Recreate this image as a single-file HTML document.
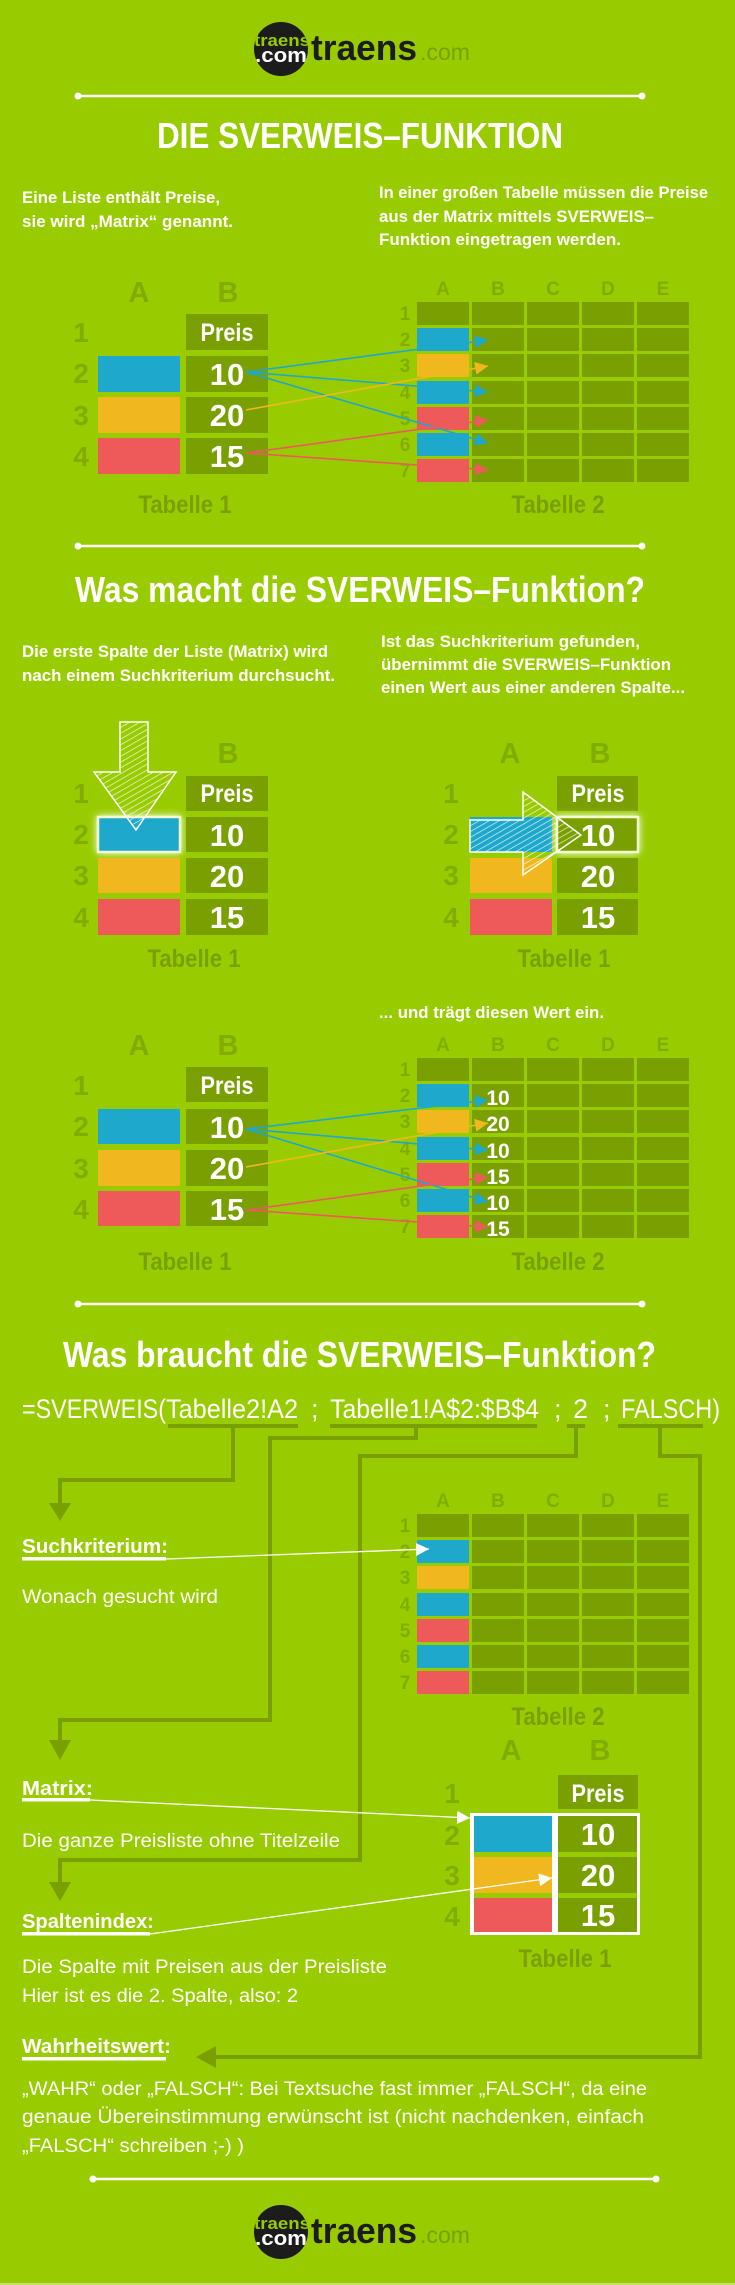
<!DOCTYPE html>
<html><head><meta charset="utf-8"><style>
html,body{margin:0;padding:0;background:#99cc00;}
svg{display:block;}
text{font-family:"Liberation Sans Narrow","Liberation Sans",sans-serif;}
.w{fill:#fff;font-weight:bold;}
.r{fill:#fff;font-weight:normal;}
.lab{fill:#82ad00;font-weight:bold;text-anchor:middle;}
.tab{fill:#79a000;font-weight:bold;text-anchor:middle;font-size:25px;}
.v{fill:#fff;font-weight:bold;text-anchor:middle;}
</style></head><body>
<svg width="735" height="2285" viewBox="0 0 735 2285" xmlns="http://www.w3.org/2000/svg">
<defs>
<g id="grid">
<g fill="#79a000">
<rect x="417" y="0" width="52" height="23"/><rect x="472" y="0" width="52" height="23"/><rect x="527" y="0" width="52" height="23"/><rect x="582" y="0" width="52" height="23"/><rect x="637" y="0" width="52" height="23"/>
<rect x="417" y="26" width="52" height="23"/><rect x="472" y="26" width="52" height="23"/><rect x="527" y="26" width="52" height="23"/><rect x="582" y="26" width="52" height="23"/><rect x="637" y="26" width="52" height="23"/>
<rect x="417" y="52" width="52" height="23"/><rect x="472" y="52" width="52" height="23"/><rect x="527" y="52" width="52" height="23"/><rect x="582" y="52" width="52" height="23"/><rect x="637" y="52" width="52" height="23"/>
<rect x="417" y="79" width="52" height="23"/><rect x="472" y="79" width="52" height="23"/><rect x="527" y="79" width="52" height="23"/><rect x="582" y="79" width="52" height="23"/><rect x="637" y="79" width="52" height="23"/>
<rect x="417" y="105" width="52" height="23"/><rect x="472" y="105" width="52" height="23"/><rect x="527" y="105" width="52" height="23"/><rect x="582" y="105" width="52" height="23"/><rect x="637" y="105" width="52" height="23"/>
<rect x="417" y="131" width="52" height="23"/><rect x="472" y="131" width="52" height="23"/><rect x="527" y="131" width="52" height="23"/><rect x="582" y="131" width="52" height="23"/><rect x="637" y="131" width="52" height="23"/>
<rect x="417" y="157" width="52" height="23"/><rect x="472" y="157" width="52" height="23"/><rect x="527" y="157" width="52" height="23"/><rect x="582" y="157" width="52" height="23"/><rect x="637" y="157" width="52" height="23"/>
</g>
<rect x="417" y="26" width="52" height="23" fill="#1ea8cc"/>
<rect x="417" y="52" width="52" height="23" fill="#f0b81e"/>
<rect x="417" y="79" width="52" height="23" fill="#1ea8cc"/>
<rect x="417" y="105" width="52" height="23" fill="#ee5a5a"/>
<rect x="417" y="131" width="52" height="23" fill="#1ea8cc"/>
<rect x="417" y="157" width="52" height="23" fill="#ee5a5a"/>
</g>
<marker id="mb" viewBox="0 0 12 12" refX="12" refY="6" markerWidth="13" markerHeight="13" markerUnits="userSpaceOnUse" orient="auto"><path d="M0,0 L12,6 L0,12 Z" fill="#1ea8cc"/></marker>
<marker id="my" viewBox="0 0 12 12" refX="12" refY="6" markerWidth="13" markerHeight="13" markerUnits="userSpaceOnUse" orient="auto"><path d="M0,0 L12,6 L0,12 Z" fill="#f0b81e"/></marker>
<marker id="mr" viewBox="0 0 12 12" refX="12" refY="6" markerWidth="13" markerHeight="13" markerUnits="userSpaceOnUse" orient="auto"><path d="M0,0 L12,6 L0,12 Z" fill="#ee5a5a"/></marker>
<marker id="mw" viewBox="0 0 12 12" refX="12" refY="6" markerWidth="13" markerHeight="13" markerUnits="userSpaceOnUse" orient="auto"><path d="M0,0 L12,6 L0,12 Z" fill="#fff"/></marker>
<pattern id="hatch" width="5" height="5" patternUnits="userSpaceOnUse" patternTransform="rotate(60)"><line x1="0" y1="0" x2="0" y2="5" stroke="#fff" stroke-width="1.3"/></pattern>
<clipPath id="cc1"><circle cx="281" cy="49" r="27"/></clipPath>
<clipPath id="cc2"><circle cx="281" cy="2232" r="27"/></clipPath>
</defs>
<rect width="735" height="2285" fill="#99cc00"/>

<circle cx="281" cy="49" r="27" fill="#1c1c1c"/>
<g clip-path="url(#cc1)">
<text x="254" y="46" font-size="17" font-weight="bold" fill="#99cc00" textLength="56" lengthAdjust="spacingAndGlyphs">traens</text>
<text x="255" y="62" font-size="20" font-weight="bold" fill="#fff" textLength="52" lengthAdjust="spacingAndGlyphs">.com</text>
</g>
<text x="311" y="60" font-size="36" font-weight="bold" fill="#1c1c1c" textLength="106" lengthAdjust="spacingAndGlyphs">traens</text>
<text x="420" y="60" font-size="23" fill="#79a000" textLength="50" lengthAdjust="spacingAndGlyphs">.com</text>

<line x1="78" y1="96" x2="642" y2="96" stroke="#fff" stroke-width="2.5"/>
<circle cx="78" cy="96" r="3.5" fill="#fff"/><circle cx="642" cy="96" r="3.5" fill="#fff"/>

<text class="w" x="157" y="148" font-size="36" textLength="406" lengthAdjust="spacingAndGlyphs">DIE SVERWEIS–FUNKTION</text>
<text class="w" x="22" y="203" font-size="17" textLength="198" lengthAdjust="spacingAndGlyphs">Eine Liste enthält Preise,</text>
<text class="w" x="22" y="227" font-size="17" textLength="211" lengthAdjust="spacingAndGlyphs">sie wird „Matrix“ genannt.</text>
<text class="w" x="379" y="198" font-size="17" textLength="329" lengthAdjust="spacingAndGlyphs">In einer großen Tabelle müssen die Preise</text>
<text class="w" x="379" y="222" font-size="17" textLength="275" lengthAdjust="spacingAndGlyphs">aus der Matrix mittels SVERWEIS–</text>
<text class="w" x="379" y="245" font-size="17" textLength="242" lengthAdjust="spacingAndGlyphs">Funktion eingetragen werden.</text>

<text class="lab" x="139" y="302" font-size="29">A</text>
<text class="lab" x="228" y="302" font-size="29">B</text>
<g class="lab" font-size="28"><text x="81" y="342">1</text><text x="81" y="383">2</text><text x="81" y="425">3</text><text x="81" y="466">4</text></g>
<rect x="186" y="314" width="82" height="36" fill="#79a000"/>
<rect x="98" y="356" width="82" height="36" fill="#1ea8cc"/><rect x="186" y="356" width="82" height="36" fill="#79a000"/>
<rect x="98" y="397" width="82" height="36" fill="#f0b81e"/><rect x="186" y="397" width="82" height="36" fill="#79a000"/>
<rect x="98" y="438" width="82" height="36" fill="#ee5a5a"/><rect x="186" y="438" width="82" height="36" fill="#79a000"/>
<text class="v" x="227" y="341" font-size="25" textLength="53" lengthAdjust="spacingAndGlyphs">Preis</text>
<text class="v" x="227" y="385" font-size="31">10</text>
<text class="v" x="227" y="426" font-size="31">20</text>
<text class="v" x="227" y="467" font-size="31">15</text>
<text class="tab" x="185" y="513" textLength="93" lengthAdjust="spacingAndGlyphs">Tabelle 1</text>

<use href="#grid" y="302"/>
<g class="lab" font-size="19"><text x="443" y="295">A</text><text x="498" y="295">B</text><text x="553" y="295">C</text><text x="608" y="295">D</text><text x="663" y="295">E</text></g>
<g class="lab" font-size="19"><text x="405" y="320">1</text><text x="405" y="346">2</text><text x="405" y="372">3</text><text x="405" y="399">4</text><text x="405" y="425">5</text><text x="405" y="451">6</text><text x="405" y="477">7</text></g>
<text class="tab" x="558" y="513" textLength="93" lengthAdjust="spacingAndGlyphs">Tabelle 2</text>
<g stroke-width="1.6" fill="none">
<line x1="246" y1="372" x2="488" y2="340" stroke="#1ea8cc" marker-end="url(#mb)"/>
<line x1="246" y1="372" x2="488" y2="392" stroke="#1ea8cc" marker-end="url(#mb)"/>
<line x1="246" y1="372" x2="488" y2="443" stroke="#1ea8cc" marker-end="url(#mb)"/>
<line x1="246" y1="410" x2="488" y2="366" stroke="#f0b81e" marker-end="url(#my)"/>
<line x1="246" y1="453" x2="488" y2="420" stroke="#ee5a5a" marker-end="url(#mr)"/>
<line x1="246" y1="453" x2="488" y2="470" stroke="#ee5a5a" marker-end="url(#mr)"/>
</g>

<line x1="78" y1="546" x2="642" y2="546" stroke="#fff" stroke-width="2.5"/>
<circle cx="78" cy="546" r="3.5" fill="#fff"/><circle cx="642" cy="546" r="3.5" fill="#fff"/>
<text class="w" x="75" y="602" font-size="36" textLength="570" lengthAdjust="spacingAndGlyphs">Was macht die SVERWEIS–Funktion?</text>
<text class="w" x="22" y="657" font-size="17" textLength="306" lengthAdjust="spacingAndGlyphs">Die erste Spalte der Liste (Matrix) wird</text>
<text class="w" x="22" y="681" font-size="17" textLength="313" lengthAdjust="spacingAndGlyphs">nach einem Suchkriterium durchsucht.</text>
<text class="w" x="381" y="647" font-size="17" textLength="259" lengthAdjust="spacingAndGlyphs">Ist das Suchkriterium gefunden,</text>
<text class="w" x="381" y="670" font-size="17" textLength="290" lengthAdjust="spacingAndGlyphs">übernimmt die SVERWEIS–Funktion</text>
<text class="w" x="381" y="693" font-size="17" textLength="304" lengthAdjust="spacingAndGlyphs">einen Wert aus einer anderen Spalte...</text>

<text class="lab" x="228" y="763" font-size="29">B</text>
<g class="lab" font-size="28"><text x="81" y="803">1</text><text x="81" y="844">2</text><text x="81" y="885">3</text><text x="81" y="927">4</text></g>
<rect x="186" y="776" width="82" height="35" fill="#79a000"/>
<rect x="98" y="817" width="82" height="35" fill="#1ea8cc" stroke="#f4ffd0" stroke-width="2.5" style="filter:drop-shadow(0 0 4px #fff)"/><rect x="186" y="817" width="82" height="35" fill="#79a000"/>
<rect x="98" y="858" width="82" height="35" fill="#f0b81e"/><rect x="186" y="858" width="82" height="35" fill="#79a000"/>
<rect x="98" y="899" width="82" height="36" fill="#ee5a5a"/><rect x="186" y="899" width="82" height="36" fill="#79a000"/>
<text class="v" x="227" y="802" font-size="25" textLength="53" lengthAdjust="spacingAndGlyphs">Preis</text>
<text class="v" x="227" y="846" font-size="31">10</text>
<text class="v" x="227" y="887" font-size="31">20</text>
<text class="v" x="227" y="928" font-size="31">15</text>
<text class="tab" x="194" y="967" textLength="93" lengthAdjust="spacingAndGlyphs">Tabelle 1</text>
<path d="M120,722 L148,722 L148,772 L176,772 L136,830 L94,772 L120,772 Z" fill="url(#hatch)" fill-opacity="0.9" stroke="#fff" stroke-width="1.5"/>

<text class="lab" x="510" y="763" font-size="29">A</text>
<text class="lab" x="600" y="763" font-size="29">B</text>
<g class="lab" font-size="28"><text x="451" y="803">1</text><text x="451" y="844">2</text><text x="451" y="885">3</text><text x="451" y="927">4</text></g>
<rect x="557" y="776" width="81" height="35" fill="#79a000"/>
<rect x="470" y="817" width="82" height="35" fill="#1ea8cc"/><rect x="557" y="817" width="81" height="35" fill="#79a000" stroke="#f4ffd0" stroke-width="2.5" style="filter:drop-shadow(0 0 4px #fff)"/>
<rect x="470" y="858" width="82" height="35" fill="#f0b81e"/><rect x="557" y="858" width="81" height="35" fill="#79a000"/>
<rect x="470" y="899" width="82" height="36" fill="#ee5a5a"/><rect x="557" y="899" width="81" height="36" fill="#79a000"/>
<text class="v" x="598" y="802" font-size="25" textLength="53" lengthAdjust="spacingAndGlyphs">Preis</text>
<text class="v" x="598" y="846" font-size="31">10</text>
<text class="v" x="598" y="887" font-size="31">20</text>
<text class="v" x="598" y="928" font-size="31">15</text>
<text class="tab" x="564" y="967" textLength="93" lengthAdjust="spacingAndGlyphs">Tabelle 1</text>
<path d="M470,820 L523,820 L523,792 L581,835 L523,875 L523,852 L470,852 Z" fill="url(#hatch)" fill-opacity="0.9" stroke="#fff" stroke-width="1.5"/>

<text class="w" x="379" y="1018" font-size="17" textLength="225" lengthAdjust="spacingAndGlyphs">... und trägt diesen Wert ein.</text>
<text class="lab" x="139" y="1055" font-size="29">A</text>
<text class="lab" x="228" y="1055" font-size="29">B</text>
<g class="lab" font-size="28"><text x="81" y="1095">1</text><text x="81" y="1136">2</text><text x="81" y="1178">3</text><text x="81" y="1219">4</text></g>
<rect x="186" y="1067" width="82" height="35" fill="#79a000"/>
<rect x="98" y="1109" width="82" height="35" fill="#1ea8cc"/><rect x="186" y="1109" width="82" height="35" fill="#79a000"/>
<rect x="98" y="1150" width="82" height="36" fill="#f0b81e"/><rect x="186" y="1150" width="82" height="36" fill="#79a000"/>
<rect x="98" y="1191" width="82" height="35" fill="#ee5a5a"/><rect x="186" y="1191" width="82" height="35" fill="#79a000"/>
<text class="v" x="227" y="1094" font-size="25" textLength="53" lengthAdjust="spacingAndGlyphs">Preis</text>
<text class="v" x="227" y="1138" font-size="31">10</text>
<text class="v" x="227" y="1179" font-size="31">20</text>
<text class="v" x="227" y="1220" font-size="31">15</text>
<text class="tab" x="185" y="1270" textLength="93" lengthAdjust="spacingAndGlyphs">Tabelle 1</text>
<use href="#grid" y="1058"/>
<g class="lab" font-size="19"><text x="443" y="1051">A</text><text x="498" y="1051">B</text><text x="553" y="1051">C</text><text x="608" y="1051">D</text><text x="663" y="1051">E</text></g>
<g class="lab" font-size="19"><text x="405" y="1076">1</text><text x="405" y="1102">2</text><text x="405" y="1128">3</text><text x="405" y="1155">4</text><text x="405" y="1181">5</text><text x="405" y="1207">6</text><text x="405" y="1233">7</text></g>
<g class="v" font-size="21"><text x="498" y="1105">10</text><text x="498" y="1131">20</text><text x="498" y="1158">10</text><text x="498" y="1184">15</text><text x="498" y="1210">10</text><text x="498" y="1236">15</text></g>
<text class="tab" x="558" y="1270" textLength="93" lengthAdjust="spacingAndGlyphs">Tabelle 2</text>
<g stroke-width="1.6" fill="none">
<line x1="246" y1="1129" x2="488" y2="1100" stroke="#1ea8cc" marker-end="url(#mb)"/>
<line x1="246" y1="1129" x2="488" y2="1150" stroke="#1ea8cc" marker-end="url(#mb)"/>
<line x1="246" y1="1129" x2="488" y2="1202" stroke="#1ea8cc" marker-end="url(#mb)"/>
<line x1="246" y1="1167" x2="488" y2="1123" stroke="#f0b81e" marker-end="url(#my)"/>
<line x1="246" y1="1210" x2="488" y2="1177" stroke="#ee5a5a" marker-end="url(#mr)"/>
<line x1="246" y1="1210" x2="488" y2="1227" stroke="#ee5a5a" marker-end="url(#mr)"/>
</g>

<line x1="78" y1="1304" x2="642" y2="1304" stroke="#fff" stroke-width="2.5"/>
<circle cx="78" cy="1304" r="3.5" fill="#fff"/><circle cx="642" cy="1304" r="3.5" fill="#fff"/>
<text class="w" x="63" y="1367" font-size="36" textLength="593" lengthAdjust="spacingAndGlyphs">Was braucht die SVERWEIS–Funktion?</text>

<g class="r" font-size="27">
<text x="22" y="1418" textLength="144" lengthAdjust="spacingAndGlyphs">=SVERWEIS(</text>
<text x="166" y="1418" textLength="132" lengthAdjust="spacingAndGlyphs">Tabelle2!A2</text>
<text x="311" y="1418">;</text>
<text x="330" y="1418" textLength="209" lengthAdjust="spacingAndGlyphs">Tabelle1!A$2:$B$4</text>
<text x="554" y="1418">;</text>
<text x="573" y="1418">2</text>
<text x="603" y="1418">;</text>
<text x="621" y="1418" textLength="99" lengthAdjust="spacingAndGlyphs">FALSCH)</text>
</g>
<g fill="#79a000">
<rect x="168" y="1424" width="130" height="4"/>
<rect x="330" y="1424" width="207" height="4"/>
<rect x="567" y="1424" width="18" height="4"/>
<rect x="618" y="1424" width="85" height="4"/>
</g>
<g stroke="#79a000" stroke-width="4" fill="none">
<polyline points="233,1426 233,1480 60,1480 60,1505"/>
<polyline points="416,1426 416,1438 270,1438 270,1720 60,1720 60,1742"/>
<polyline points="576,1426 576,1456 360,1456 360,1860 60,1860 60,1884"/>
<polyline points="660,1426 660,1456 700,1456 700,2057 214,2057"/>
</g>
<g fill="#79a000">
<polygon points="49,1503 71,1503 60,1521"/>
<polygon points="49,1740 71,1740 60,1760"/>
<polygon points="49,1882 71,1882 60,1901"/>
<polygon points="216,2046 216,2068 196,2057"/>
</g>

<use href="#grid" y="1514"/>
<g class="lab" font-size="19"><text x="443" y="1507">A</text><text x="498" y="1507">B</text><text x="553" y="1507">C</text><text x="608" y="1507">D</text><text x="663" y="1507">E</text></g>
<g class="lab" font-size="19"><text x="405" y="1532">1</text><text x="405" y="1558">2</text><text x="405" y="1584">3</text><text x="405" y="1611">4</text><text x="405" y="1637">5</text><text x="405" y="1663">6</text><text x="405" y="1689">7</text></g>
<text class="tab" x="558" y="1725" textLength="93" lengthAdjust="spacingAndGlyphs">Tabelle 2</text>

<text class="w" x="22" y="1553" font-size="20" textLength="146" lengthAdjust="spacingAndGlyphs">Suchkriterium:</text>
<rect x="22" y="1557" width="144" height="3.5" fill="#fff"/>
<line x1="166" y1="1559" x2="429" y2="1549" stroke="#fff" stroke-width="1.3" marker-end="url(#mw)"/>
<text class="r" x="22" y="1603" font-size="19" textLength="196" lengthAdjust="spacingAndGlyphs">Wonach gesucht wird</text>

<text class="lab" x="511" y="1760" font-size="29">A</text>
<text class="lab" x="600" y="1760" font-size="29">B</text>
<g class="lab" font-size="28"><text x="452" y="1803">1</text><text x="452" y="1845">2</text><text x="452" y="1885">3</text><text x="452" y="1926">4</text></g>
<rect x="558" y="1775" width="80" height="34" fill="#79a000"/>
<rect x="470" y="1813" width="170" height="122" fill="#fff"/>
<rect x="474" y="1816" width="78" height="36" fill="#1ea8cc"/><rect x="558" y="1816" width="79" height="36" fill="#79a000"/>
<rect x="474" y="1852" width="78" height="5" fill="#99cc00"/><rect x="558" y="1852" width="79" height="5" fill="#99cc00"/>
<rect x="474" y="1857" width="78" height="36" fill="#f0b81e"/><rect x="558" y="1857" width="79" height="36" fill="#79a000"/>
<rect x="474" y="1893" width="78" height="5" fill="#99cc00"/><rect x="558" y="1893" width="79" height="5" fill="#99cc00"/>
<rect x="474" y="1898" width="78" height="34" fill="#ee5a5a"/><rect x="558" y="1898" width="79" height="34" fill="#79a000"/>
<text class="v" x="598" y="1802" font-size="25" textLength="53" lengthAdjust="spacingAndGlyphs">Preis</text>
<text class="v" x="598" y="1845" font-size="31">10</text>
<text class="v" x="598" y="1886" font-size="31">20</text>
<text class="v" x="598" y="1926" font-size="31">15</text>
<text class="tab" x="565" y="1967" textLength="93" lengthAdjust="spacingAndGlyphs">Tabelle 1</text>

<text class="w" x="22" y="1795" font-size="20" textLength="71" lengthAdjust="spacingAndGlyphs">Matrix:</text>
<rect x="22" y="1798" width="68" height="3.5" fill="#fff"/>
<line x1="90" y1="1800" x2="470" y2="1818" stroke="#fff" stroke-width="1.3" marker-end="url(#mw)"/>
<text class="r" x="22" y="1847" font-size="19" textLength="318" lengthAdjust="spacingAndGlyphs">Die ganze Preisliste ohne Titelzeile</text>

<text class="w" x="22" y="1928" font-size="20" textLength="132" lengthAdjust="spacingAndGlyphs">Spaltenindex:</text>
<rect x="22" y="1932" width="128" height="3.5" fill="#fff"/>
<line x1="150" y1="1934" x2="552" y2="1878" stroke="#fff" stroke-width="1.3" marker-end="url(#mw)"/>
<text class="r" x="22" y="1973" font-size="19" textLength="365" lengthAdjust="spacingAndGlyphs">Die Spalte mit Preisen aus der Preisliste</text>
<text class="r" x="22" y="2002" font-size="19" textLength="276" lengthAdjust="spacingAndGlyphs">Hier ist es die 2. Spalte, also: 2</text>

<text class="w" x="22" y="2053" font-size="20" textLength="149" lengthAdjust="spacingAndGlyphs">Wahrheitswert:</text>
<rect x="22" y="2057" width="144" height="3.5" fill="#fff"/>
<text class="r" x="22" y="2095" font-size="19" textLength="625" lengthAdjust="spacingAndGlyphs">„WAHR“ oder „FALSCH“: Bei Textsuche fast immer „FALSCH“, da eine</text>
<text class="r" x="22" y="2123" font-size="19" textLength="622" lengthAdjust="spacingAndGlyphs">genaue Übereinstimmung erwünscht ist (nicht nachdenken, einfach</text>
<text class="r" x="22" y="2152" font-size="19" textLength="222" lengthAdjust="spacingAndGlyphs">„FALSCH“ schreiben ;-) )</text>

<line x1="93" y1="2179" x2="656" y2="2179" stroke="#fff" stroke-width="2.5"/>
<circle cx="93" cy="2179" r="3.5" fill="#fff"/><circle cx="656" cy="2179" r="3.5" fill="#fff"/>

<circle cx="281" cy="2232" r="27" fill="#1c1c1c"/>
<g clip-path="url(#cc2)">
<text x="254" y="2229" font-size="17" font-weight="bold" fill="#99cc00" textLength="56" lengthAdjust="spacingAndGlyphs">traens</text>
<text x="255" y="2245" font-size="20" font-weight="bold" fill="#fff" textLength="52" lengthAdjust="spacingAndGlyphs">.com</text>
</g>
<text x="311" y="2243" font-size="36" font-weight="bold" fill="#1c1c1c" textLength="106" lengthAdjust="spacingAndGlyphs">traens</text>
<text x="420" y="2243" font-size="23" fill="#79a000" textLength="50" lengthAdjust="spacingAndGlyphs">.com</text>
<rect x="0" y="2283" width="735" height="2" fill="#c8e070"/>
</svg>
</body></html>
